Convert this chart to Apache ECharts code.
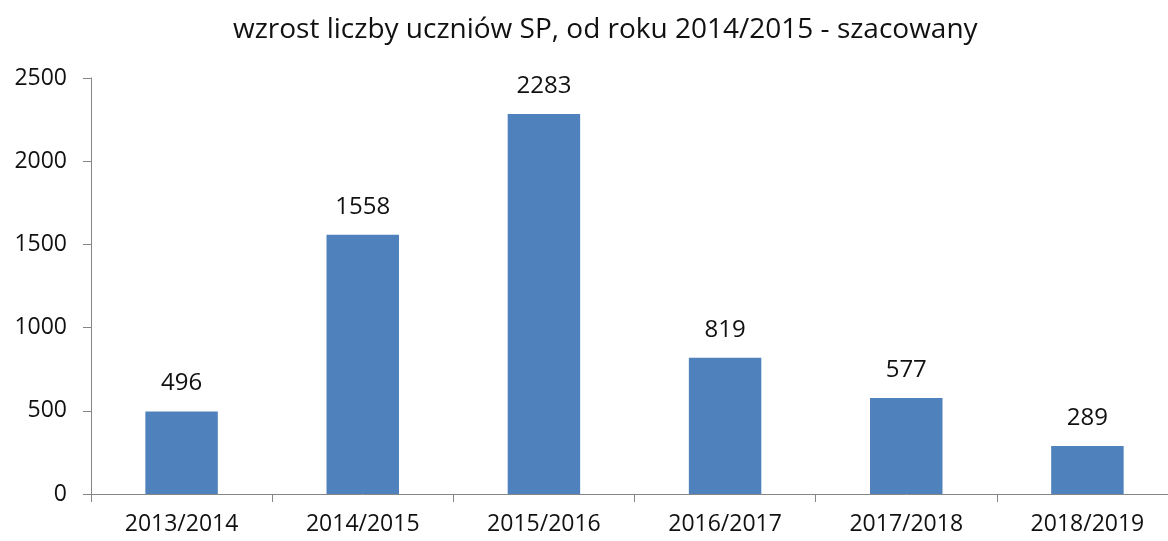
<!DOCTYPE html>
<html>
<head>
<meta charset="utf-8">
<script src="https://cdn.jsdelivr.net/npm/echarts@6/dist/echarts.min.js"></script>
<style>
html, body { margin: 0; padding: 0; background: #fff; overflow: hidden; }
/* the original is cropped on the right, so the chart is a bit wider than the window */
#chart { width: 1178px; height: 541px; }
</style>
</head>
<body>
<div id="chart"></div>
<script>
var categories = ['2013/2014', '2014/2015', '2015/2016', '2016/2017', '2017/2018', '2018/2019'];
var values = [496, 1558, 2283, 819, 577, 289];
var chartTitle = 'wzrost liczby uczniów SP, od roku 2014/2015 - szacowany';

var chart = echarts.init(document.getElementById('chart'));
var font = '"Open Sans", "Noto Sans", sans-serif';
var axisColor = '#868686';

var option = {
	animation: false,
	title: {
		text: chartTitle,
		left: 228,
		top: 11,
		textStyle: { fontFamily: font, fontSize: 28, fontWeight: 'normal', color: '#111' }
	},
	grid: { left: 91, right: 0, top: 78, bottom: 47, containLabel: false },
	xAxis: {
		type: 'category',
		data: categories,
		axisLine: { lineStyle: { color: axisColor } },
		axisTick: { show: true, length: 8, lineStyle: { color: axisColor } },
		axisLabel: { fontFamily: font, fontSize: 23, color: '#111', margin: 19 }
	},
	yAxis: {
		type: 'value',
		min: 0,
		max: 2500,
		interval: 500,
		axisLine: { show: true, lineStyle: { color: axisColor } },
		axisTick: { show: true, length: 8, lineStyle: { color: axisColor } },
		splitLine: { show: false },
		axisLabel: {
			fontFamily: font, fontSize: 23, color: '#111', margin: 24,
			formatter: function (v) { return String(v); }
		}
	},
	series: [{
		type: 'bar',
		data: values,
		barWidth: '40%',
		itemStyle: { color: '#4F81BD' },
		label: {
			show: true,
			position: 'top',
			distance: 16,
			fontFamily: font,
			fontSize: 24,
			color: '#111'
		}
	}]
};
chart.setOption(option);
</script>
</body>
</html>
